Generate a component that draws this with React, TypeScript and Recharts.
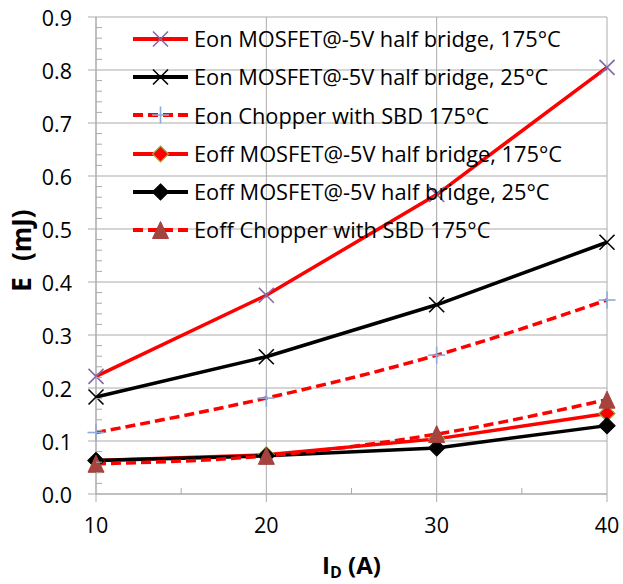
import React from 'react';
import { LineChart, Line, XAxis, YAxis, CartesianGrid, Legend } from 'recharts';

// Drain current (A)
const currents = [10, 20, 30, 40];

// Switching energies (mJ)
const eonHalfBridge175 = [0.222, 0.375, 0.565, 0.805];
const eonHalfBridge25 = [0.183, 0.259, 0.357, 0.475];
const eonChopper175 = [0.116, 0.181, 0.262, 0.366];
const eoffHalfBridge175 = [0.063, 0.074, 0.104, 0.152];
const eoffHalfBridge25 = [0.063, 0.072, 0.087, 0.129];
const eoffChopper175 = [0.057, 0.072, 0.113, 0.178];

const seriesNames = [
  'Eon MOSFET@-5V half bridge, 175°C',
  'Eon MOSFET@-5V half bridge, 25°C',
  'Eon Chopper with SBD 175°C',
  'Eoff MOSFET@-5V half bridge, 175°C',
  'Eoff MOSFET@-5V half bridge, 25°C',
  'Eoff Chopper with SBD 175°C',
];

const xTicks = [10, 20, 30, 40];
const xMinorTicks = [15, 25, 35];
const yTicks = [0, 0.1, 0.2, 0.3, 0.4, 0.5, 0.6, 0.7, 0.8, 0.9];
const yMinorTicks = yTicks
  .slice(0, -1)
  .flatMap((t) => [1, 2, 3, 4].map((k) => +(t + k * 0.02).toFixed(2)));

const xAllTicks = [...xTicks, ...xMinorTicks].sort((a, b) => a - b);
const yAllTicks = [...yTicks, ...yMinorTicks].sort((a, b) => a - b);

const FONT = '"Open Sans", sans-serif';
const GRID = '#ababab';
const TICK_SIZE = 8;
const TICK_MARGIN = 16;
const MINOR_SIZE = 6;

const rows = currents.map((id, i) => ({
  id,
  s0: eonHalfBridge175[i],
  s1: eonHalfBridge25[i],
  s2: eonChopper175[i],
  s3: eoffHalfBridge175[i],
  s4: eoffHalfBridge25[i],
  s5: eoffChopper175[i],
}));

type MarkKind = 'x' | 'plus' | 'diamond' | 'triangle';

interface SeriesStyle {
  key: string;
  name: string;
  color: string;
  dash?: string;
  smooth?: boolean;
  mark: MarkKind;
  markStroke: string;
  markFill?: string;
}

const series: SeriesStyle[] = [
  { key: 's0', name: seriesNames[0], color: '#ff0000', mark: 'x', markStroke: '#7f6aa6' },
  { key: 's1', name: seriesNames[1], color: '#000000', mark: 'x', markStroke: '#000000' },
  { key: 's2', name: seriesNames[2], color: '#ff0000', dash: '10 5', smooth: true, mark: 'plus', markStroke: '#8eaad8' },
  { key: 's3', name: seriesNames[3], color: '#ff0000', mark: 'diamond', markStroke: '#9bab4a', markFill: '#ff0000' },
  { key: 's4', name: seriesNames[4], color: '#000000', mark: 'diamond', markStroke: '#000000', markFill: '#000000' },
  { key: 's5', name: seriesNames[5], color: '#ff0000', dash: '10 5', smooth: true, mark: 'triangle', markStroke: '#a5433f', markFill: '#a5433f' },
];

function Marker({ kind, cx, cy, stroke, fill }: { kind: MarkKind; cx: number; cy: number; stroke: string; fill?: string }) {
  if (kind === 'x') {
    const r = 7.5;
    return (
      <g stroke={stroke} strokeWidth={1.6} fill="none">
        <line x1={cx - r} y1={cy - r} x2={cx + r} y2={cy + r} />
        <line x1={cx - r} y1={cy + r} x2={cx + r} y2={cy - r} />
      </g>
    );
  }
  if (kind === 'plus') {
    const r = 8.5;
    return (
      <g stroke={stroke} strokeWidth={1.6} fill="none">
        <line x1={cx - r} y1={cy} x2={cx + r} y2={cy} />
        <line x1={cx} y1={cy - r} x2={cx} y2={cy + r} />
      </g>
    );
  }
  if (kind === 'diamond') {
    const r = 8;
    return (
      <polygon
        points={`${cx},${cy - r} ${cx + r},${cy} ${cx},${cy + r} ${cx - r},${cy}`}
        fill={fill}
        stroke={stroke}
        strokeWidth={1.2}
      />
    );
  }
  const h = 8.5;
  const w = 8;
  return (
    <polygon
      points={`${cx},${cy - h} ${cx + w},${cy + h} ${cx - w},${cy + h}`}
      fill={fill}
      stroke={stroke}
      strokeWidth={1}
    />
  );
}

// Y axis tick: major ticks point outward with a label, minor ticks point inward.
const YTick = (props: any) => {
  const { x, y, payload } = props;
  const axisX = x + TICK_SIZE + TICK_MARGIN;
  const isMajor = yTicks.some((t) => Math.abs(t - payload.value) < 1e-6);
  if (!isMajor) {
    return <line x1={axisX} x2={axisX + MINOR_SIZE} y1={y} y2={y} stroke={GRID} />;
  }
  return (
    <g>
      <line x1={axisX - TICK_SIZE} x2={axisX} y1={y} y2={y} stroke={GRID} />
      <text x={x} y={y} textAnchor="end" dominantBaseline="central" fontFamily={FONT} fontSize={21.5} fill="#000">
        {Number(payload.value).toFixed(1)}
      </text>
    </g>
  );
};

const XTick = (props: any) => {
  const { x, y, payload } = props;
  const axisY = y - TICK_SIZE - TICK_MARGIN;
  const isMajor = xTicks.includes(payload.value);
  if (!isMajor) {
    return <line x1={x} x2={x} y1={axisY} y2={axisY - MINOR_SIZE} stroke={GRID} />;
  }
  return (
    <g>
      <line x1={x} x2={x} y1={axisY} y2={axisY + TICK_SIZE} stroke={GRID} />
      <text x={x} y={y} dy="0.71em" textAnchor="middle" fontFamily={FONT} fontSize={21.5} fill="#000">
        {payload.value}
      </text>
    </g>
  );
};

function LegendBox() {
  return (
    <div style={{ fontFamily: FONT, fontSize: 21.8, color: '#000', lineHeight: 1 }}>
      {series.map((s) => (
        <div key={s.key} style={{ display: 'flex', alignItems: 'center', height: 38.2, whiteSpace: 'nowrap' }}>
          <svg width={61} height={38} style={{ display: 'block', flex: 'none' }}>
            <line x1={5} x2={60} y1={19} y2={19} stroke={s.color} strokeWidth={4} strokeDasharray={s.dash} />
            <Marker kind={s.mark} cx={32.5} cy={19} stroke={s.markStroke} fill={s.markFill} />
          </svg>
          <span style={{ marginLeft: 5 }}>{s.name}</span>
        </div>
      ))}
    </div>
  );
}

const XTitle = (props: any) => {
  const vb = props.viewBox || { x: 96, y: 494, width: 511, height: 90 };
  return (
    <text
      x={vb.x + vb.width / 2}
      y={vb.y + 80}
      textAnchor="middle"
      fontFamily={FONT}
      fontWeight="bold"
      fontSize={24}
      fill="#000"
    >
      <tspan>I</tspan>
      <tspan fontSize={16} dy={4}>D</tspan>
      <tspan dy={-4}> (A)</tspan>
    </text>
  );
};

const YTitle = (props: any) => {
  const vb = props.viewBox || { x: 0, y: 17, width: 96, height: 477 };
  const cx = vb.x + 21;
  const cy = vb.y + vb.height / 2 - 5;
  return (
    <text
      x={cx}
      y={cy}
      transform={`rotate(-90 ${cx} ${cy})`}
      textAnchor="middle"
      dominantBaseline="central"
      fontFamily={FONT}
      fontWeight="bold"
      fontSize={26}
      fill="#000"
    >
      <tspan>E</tspan>
      <tspan dx={16}>(mJ)</tspan>
    </text>
  );
};

export default function App() {
  return (
    <div style={{ position: 'absolute', left: 0, top: 0, background: '#fff' }}>
      <LineChart width={623} height={584} data={rows} margin={{ top: 17, right: 16, bottom: 0, left: 0 }}>
        <CartesianGrid stroke={GRID} strokeWidth={1} horizontalValues={yTicks} verticalValues={xTicks} />
        <XAxis
          dataKey="id"
          type="number"
          domain={[10, 40]}
          ticks={xAllTicks}
          interval={0}
          height={90}
          stroke={GRID}
          tickLine={false}
          tickSize={TICK_SIZE}
          tickMargin={TICK_MARGIN}
          tick={<XTick />}
          label={<XTitle />}
        />
        <YAxis
          type="number"
          domain={[0, 0.9]}
          ticks={yAllTicks}
          interval={0}
          width={96}
          stroke={GRID}
          tickLine={false}
          tickSize={TICK_SIZE}
          tickMargin={TICK_MARGIN}
          tick={<YTick />}
          label={<YTitle />}
        />
        <Legend
          layout="horizontal"
          verticalAlign="middle"
          align="center"
          content={<LegendBox />}
          wrapperStyle={{ left: 128, top: 20, width: 470, height: 230 }}
        />
        {series.map((s) => (
          <Line
            key={s.key}
            dataKey={s.key}
            name={s.name}
            type={s.smooth ? 'monotone' : 'linear'}
            stroke={s.color}
            strokeWidth={3.5}
            strokeDasharray={s.dash}
            isAnimationActive={false}
            dot={(p: any) => (
              <Marker key={`${s.key}-${p.index}`} kind={s.mark} cx={p.cx} cy={p.cy} stroke={s.markStroke} fill={s.markFill} />
            )}
            activeDot={false}
          />
        ))}
      </LineChart>
    </div>
  );
}
